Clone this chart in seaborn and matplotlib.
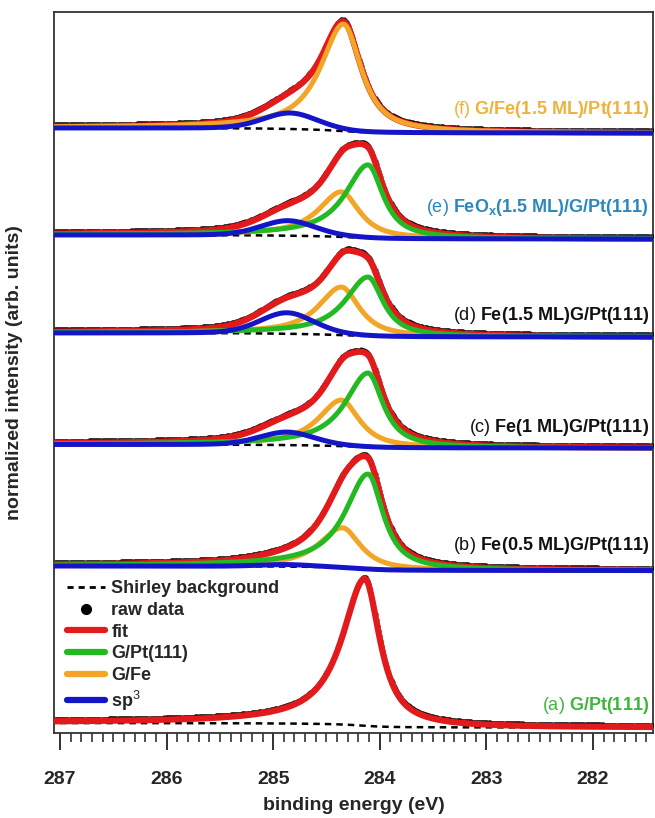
import numpy as np
import matplotlib
matplotlib.use("Agg")
import matplotlib.pyplot as plt
import matplotlib.transforms as mtransforms
from matplotlib.lines import Line2D
import seaborn as sns

# ---------------- data ----------------
panel_tags = ["(a)", "(b)", "(c)", "(d)", "(e)", "(f)"]
panel_names = [r"G/Pt(111)", r"Fe(0.5\ ML)G/Pt(111)", r"Fe(1\ ML)G/Pt(111)",
               r"Fe(1.5\ ML)G/Pt(111)", r"FeO_x(1.5\ ML)/G/Pt(111)",
               r"G/Fe(1.5\ ML)/Pt(111)"]
# baseline (right end, low binding energy side) of each stacked spectrum, arb. units
baseline = [5.5, 162.5, 285.0, 396.0, 494.0, 600.0]
# Shirley step height (high-BE side minus low-BE side)
shirley_step = [4.5, 4.5, 3.5, 4.0, 4.0, 5.0]
# G/Pt(111) component
gpt_center = [284.14, 284.11, 284.11, 284.11, 284.11, 284.11]
gpt_height = [147.0, 95.0, 74.0, 59.0, 73.0, 0.0]
# G/Fe component
gfe_center = [284.35, 284.35, 284.36, 284.36, 284.36, 284.34]
gfe_height = [0.0, 40.0, 46.0, 48.0, 45.0, 107.0]
# sp3 component
sp3_center = [284.87, 284.87, 284.87, 284.87, 284.86, 284.84]
sp3_height = [0.0, 2.0, 13.0, 21.0, 15.0, 16.0]
show_components = [False, True, True, True, True, True]

xticks_major = [287, 286, 285, 284, 283, 282]

# ---------------- styling ----------------
sns.set_theme(style="white")
plt.rcParams['font.family'] = ['Liberation Sans', 'DejaVu Sans']
plt.rcParams['mathtext.fontset'] = 'custom'
plt.rcParams['mathtext.rm'] = 'Liberation Sans'
plt.rcParams['mathtext.bf'] = 'Liberation Sans:bold'
plt.rcParams['mathtext.it'] = 'Liberation Sans:italic'

C_RED = "#E31A1C"
C_GREEN = "#22B922"
C_ORANGE = "#F2A526"
C_BLUE = "#1414C8"
label_colors = ["#3FB53F", "#111111", "#111111", "#111111", "#2A88BE", "#F0B23A"]
label_dy = [22.5, 25.5, 20.0, 22.0, 31.0, 24.0]


def peak(E, c, h, wl, wr, eta, grow=0.0):
    d = E - c
    w = np.where(d > 0, wl + grow * np.clip(d, 0, None), wr)
    x = d / w
    return h * (eta / (1 + x ** 2) + (1 - eta) * np.exp(-np.log(2) * x ** 2))


E = np.linspace(281.40, 287.10, 1141)          # ascending
E_raw = np.arange(281.45, 287.051, 0.01)

fig = plt.figure(figsize=(6.55, 8.18), dpi=100)
ax = fig.add_axes([54 / 655, 85 / 818, 599 / 655, 721 / 818])
raw_tr = mtransforms.offset_copy(ax.transData, fig=fig, x=0, y=1.6, units='points')

for i in range(len(panel_tags)):
    comp_gpt = peak(E, gpt_center[i], gpt_height[i], 0.25, 0.17, 0.90, 0.03)
    comp_gfe = peak(E, gfe_center[i], gfe_height[i], 0.25, 0.20, 0.85, 0.03)
    comp_sp3 = peak(E, sp3_center[i], sp3_height[i], 0.30, 0.30, 0.20)
    total = comp_gpt + comp_gfe + comp_sp3
    cum = np.concatenate([[0], np.cumsum(0.5 * (total[1:] + total[:-1]) * np.diff(E))])
    bg = baseline[i] + shirley_step[i] * cum / cum[-1]
    fit = bg + total

    sns.lineplot(x=E, y=bg, ax=ax, color="black", lw=1.8,
                 linestyle=(0, (2.6, 2.0)), estimator=None, sort=False, zorder=2)
    raw = np.interp(E_raw, E, fit)
    ax.plot(E_raw, raw, 'o', ms=3.0, color="black", mec="none",
            transform=raw_tr, zorder=3)
    sns.lineplot(x=E, y=fit, ax=ax, color=C_RED, lw=4.5,
                 estimator=None, sort=False, zorder=4)
    if show_components[i]:
        for comp, col, h in [(comp_gfe, C_ORANGE, gfe_height[i]),
                             (comp_gpt, C_GREEN, gpt_height[i]),
                             (comp_sp3, C_BLUE, sp3_height[i])]:
            if h > 0:
                sns.lineplot(x=E, y=bg + comp, ax=ax, color=col, lw=3.6,
                             estimator=None, sort=False, zorder=5)

    tr = mtransforms.blended_transform_factory(ax.transAxes, ax.transData)
    ax.text(0.993, baseline[i] + label_dy[i],
            panel_tags[i] + r" $\mathbf{" + panel_names[i] + "}$",
            transform=tr, ha='right', va='center', fontsize=13,
            color=label_colors[i], zorder=6)

ax.set_xlim(287.056, 281.437)
ax.set_ylim(0, 721)
ax.set_yticks([])
ax.set_xticks(xticks_major)
ax.set_xticklabels([str(t) for t in xticks_major], fontsize=14, fontweight='bold')
ax.xaxis.set_minor_locator(matplotlib.ticker.MultipleLocator(0.1))
ax.tick_params(axis='x', which='major', direction='out', length=12, width=1.3,
               color='#222222', pad=15, bottom=True)
ax.tick_params(axis='x', which='minor', direction='out', length=6.5, width=1.1,
               color='#222222', bottom=True)
for s in ax.spines.values():
    s.set_color('#333333')
    s.set_linewidth(1.3)

ax.set_xlabel("binding energy (eV)", fontsize=14, fontweight='bold', labelpad=7)
ax.set_ylabel("normalized intensity (arb. units)", fontsize=14, fontweight='bold',
              labelpad=22)

handles = [
    Line2D([], [], color='black', lw=2.0, linestyle=(0, (2.2, 1.8))),
    Line2D([], [], color='black', marker='o', ms=7, ls='none'),
    Line2D([], [], color=C_RED, lw=4.5),
    Line2D([], [], color=C_GREEN, lw=4.5),
    Line2D([], [], color=C_ORANGE, lw=4.5),
    Line2D([], [], color=C_BLUE, lw=4.5),
]
names = ["Shirley background", "raw data", "fit", "G/Pt(111)", "G/Fe", "sp$^3$"]
ax.legend(handles, names, loc='upper left', bbox_to_anchor=(0.022, 0.212),
          frameon=False, prop={'weight': 'bold', 'size': 13}, handlelength=2.1,
          handletextpad=0.35, labelspacing=0.26, borderpad=0, borderaxespad=0)

fig.savefig("out.png", dpi=100)
